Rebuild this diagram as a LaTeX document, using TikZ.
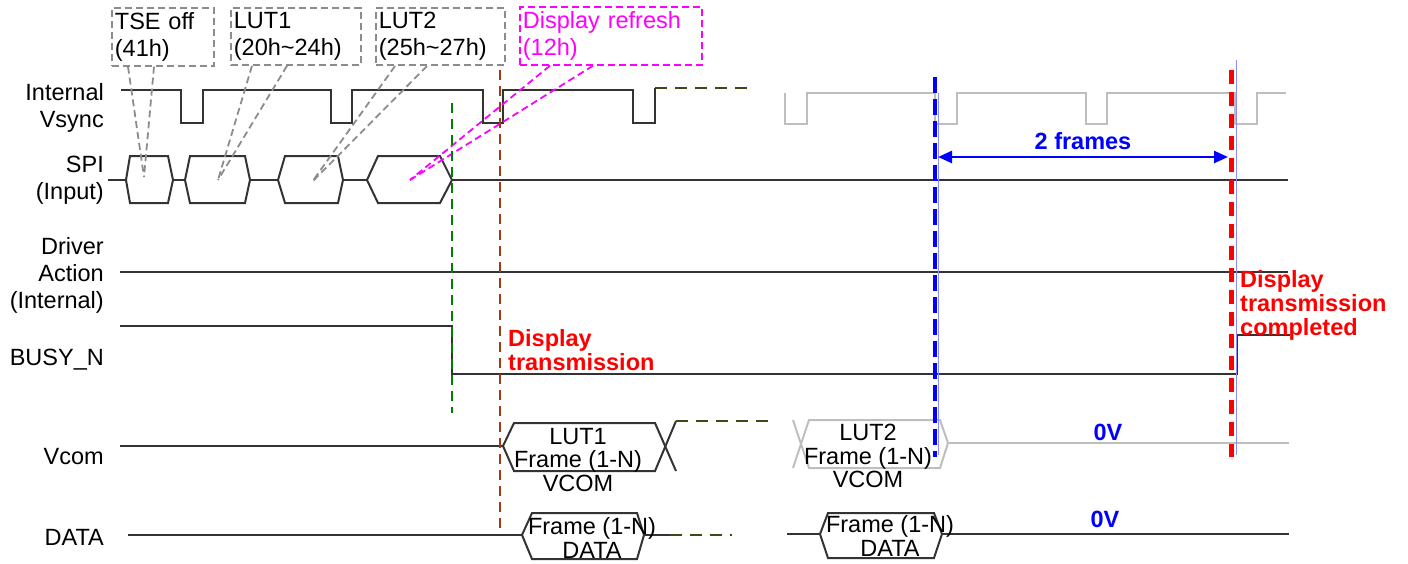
\documentclass[tikz,border=0pt]{standalone}
\usepackage{fontspec}
\setmainfont{Liberation Sans}
\usetikzlibrary{arrows.meta,positioning}
\usepackage{xcolor}
\definecolor{gris}{RGB}{140,140,140}
\definecolor{grisclaro}{RGB}{190,190,190}
\definecolor{oliva}{RGB}{70,70,20}
\definecolor{ladrillo}{RGB}{160,60,20}
\definecolor{verde}{RGB}{0,128,0}
\definecolor{rosa}{RGB}{255,0,255}
\definecolor{azulclaro}{RGB}{140,140,255}

\begin{document}
\begin{tikzpicture}[
  x=1pt, y=-1pt,
  font=\fontsize{23.5}{27}\selectfont,
  senal/.style={line width=2pt, draw=black!80},
  senalgris/.style={line width=2pt, draw=grisclaro},
  rotulo/.style={align=right, anchor=north east, inner sep=0pt},
  nota/.style={draw=gris, line width=1.8pt, dash pattern=on 7pt off 4pt, align=left, anchor=north west, inner xsep=3pt, inner ysep=4.5pt},
  guia/.style={gris, line width=1.8pt, dash pattern=on 7pt off 4pt},
  marca/.style={line width=2.5pt, dash pattern=on 10pt off 6pt},
  dentro/.style={align=center, inner sep=0pt, font=\fontsize{23.5}{23.5}\selectfont},
  aviso/.style={align=left, anchor=north west, inner sep=0pt, red, font=\fontsize{23.5}{24}\selectfont\bfseries},
  cota/.style={{Triangle[length=14pt,width=12pt]}-{Triangle[length=14pt,width=12pt]}, line width=2.5pt, blue}
]
\useasboundingbox (0,0) rectangle (1408,563);

% nombres de las senales
\node[rotulo] (vsync) at (104,83) {Internal\\Vsync};
\node[rotulo] (spi) at (104,156) {SPI\\(Input)};
\node[rotulo] (accion) at (104,237) {Driver\\Action\\(Internal)};
\node[rotulo] (busy) at (104,349) {BUSY\_N};
\node[rotulo] (vcom) at (104,448) {Vcom};
\node[rotulo] (datos) at (104,529) {DATA};

% comandos SPI
\node[nota, text width=96pt] (tse) at (111,7) {TSE off\\(41h)};
\node[nota, text width=124pt] (lutuno) at (230,7) {LUT1\\(20h\textasciitilde24h)};
\node[nota, text width=123pt] (lutdos) at (375,7) {LUT2\\(25h\textasciitilde27h)};
\node[nota, text width=176pt, draw=rosa, text=rosa] (refresco) at (519,6) {Display refresh\\(12h)};

% Internal Vsync
\draw[senal] (121,90) -- (181,90) -- (181,123) -- (203,123) -- (203,90) -- (331,90) -- (331,123) -- (352,123) -- (352,90)
  -- (483,90) -- (483,123) -- (503,123) -- (503,90) -- (633,90) -- (633,123) -- (655,123) -- (655,88);
\draw[marca, oliva, dash pattern=on 12pt off 8pt] (655,88) -- (748,88);
\draw[senalgris] (785,93) -- (785,124) -- (807,124) -- (807,93) -- (935,93) -- (935,124) -- (957,124) -- (957,93)
  -- (1086,93) -- (1086,124) -- (1107,124) -- (1107,93) -- (1235,93) -- (1235,124) -- (1257,124) -- (1257,93) -- (1286,93);

% SPI
\draw[senal] (108,180) -- (126,180) (173,180) -- (185,180) (250,180) -- (278,180) (343,180) -- (367,180) (452,180) -- (1288,180);
\foreach \a/\b/\c/\d in {126/130/168/173, 185/190/245/250, 278/285/338/343, 367/378/440/452}
  \draw[senal] (\a,180) -- (\b,156) -- (\c,156) -- (\d,180) -- (\c,203) -- (\b,203) -- cycle;
\coordinate (ptse) at (144,177);
\coordinate (plutuno) at (218,180);
\coordinate (plutdos) at (312,182);
\coordinate (prefresco) at (410,180);
\draw[guia] ([xshift=17pt]tse.south west) -- (ptse);
\draw[guia] ([xshift=43pt]tse.south west) -- (ptse);
\draw[guia] ([xshift=22pt]lutuno.south west) -- (plutuno);
\draw[guia] ([xshift=57pt]lutuno.south west) -- (plutuno);
\draw[guia] ([xshift=20pt]lutdos.south west) -- (plutdos);
\draw[guia] ([xshift=52pt]lutdos.south west) -- (plutdos);
\draw[guia, rosa] ([xshift=31pt]refresco.south west) -- (prefresco);
\draw[guia, rosa] ([xshift=74pt]refresco.south west) -- (prefresco);

% Driver Action y BUSY_N
\draw[senal] (120,272) -- (1288,272);
\draw[senal] (120,326) -- (452,326) -- (452,374) -- (1237,374) -- (1237,335) -- (1290,335);
\node[aviso] (transmision) at (508,329) {Display\\transmission};
\node[aviso] (completa) at (1240,270) {Display\\transmission\\completed};

% Vcom
\draw[senal] (120,446) -- (503,446);
\draw[senal] (503,446) -- (514,423) -- (655,423) -- (676,471);
\draw[senal] (503,446) -- (514,471) -- (655,471) -- (676,421);
\draw[marca, oliva, dash pattern=on 12pt off 8pt] (676,421) -- (772,421);
\node[dentro] (vcomuno) at (578,460) {LUT1\\Frame (1-N)\\VCOM};
\draw[senalgris] (793,420) -- (809,468) -- (940,468) -- (948,443) -- (940,420) -- (809,420) -- (793,468);
\draw[senalgris] (948,443) -- (1289,443);
\node[dentro] (vcomdos) at (868,456) {LUT2\\Frame (1-N)\\VCOM};
\node[blue, font=\fontsize{23.5}{27}\selectfont\bfseries] (cerov) at (1108,432) {0V};

% DATA
\draw[senal] (128,535) -- (522,535);
\draw[senal] (522,535) -- (532,513) -- (637,513) -- (644,535) -- (637,559) -- (532,559) -- cycle;
\draw[senal] (644,535) -- (670,535);
\draw[marca, oliva, dash pattern=on 12pt off 8pt] (670,535) -- (732,535);
\node[dentro] (datouno) at (592,538) {Frame (1-N)\\DATA};
\draw[senal] (787,534) -- (820,534);
\draw[senal] (820,534) -- (828,513) -- (934,513) -- (942,534) -- (934,558) -- (828,558) -- cycle;
\draw[senal] (942,534) -- (1289,534);
\node[dentro] (datodos) at (890,536) {Frame (1-N)\\DATA};
\node[blue, font=\fontsize{23.5}{27}\selectfont\bfseries] (cerovdos) at (1105,519) {0V};

% marcas verticales
\draw[marca, verde] (452,103) -- (452,413);
\draw[marca, ladrillo] (500,70) -- (500,532);
\draw[azulclaro, line width=1pt] (938,93) -- (938,455);
\draw[blue, line width=4pt, dash pattern=on 16pt off 6pt] (935,77) -- (935,457);
\draw[azulclaro, line width=1pt] (1236,60) -- (1236,455);
\draw[red, line width=5pt, dash pattern=on 14pt off 8pt] (1231,70) -- (1231,457);

% dos tramas
\coordinate (izq) at (938,157);
\coordinate (der) at (1228,157);
\draw[cota] (izq) -- node[above=3pt, font=\fontsize{23.5}{27}\selectfont\bfseries] {2 frames} (der);
\end{tikzpicture}
\end{document}
